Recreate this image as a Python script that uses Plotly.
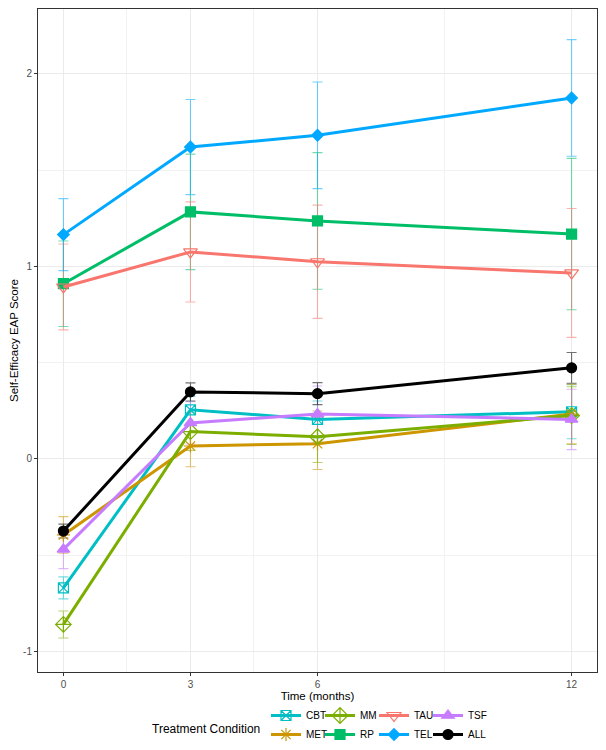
import plotly.graph_objects as go

months = [0, 3, 6, 12]
groups = ["CBT", "MET", "MM", "RP", "TAU", "TEL", "TSF", "ALL"]

cbt = [-0.67, 0.255, 0.205, 0.245]
cbt_err = [0.057, 0.07, 0.096, 0.14]
met = [-0.395, 0.067, 0.079, 0.233]
met_err = [0.095, 0.108, 0.134, 0.154]
mm = [-0.86, 0.142, 0.115, 0.225]
mm_err = [0.07, 0.098, 0.134, 0.15]
rp = [0.91, 1.283, 1.236, 1.168]
rp_err = [0.222, 0.30, 0.355, 0.393]
tau = [0.893, 1.075, 1.024, 0.966]
tau_err = [0.223, 0.26, 0.294, 0.335]
tel = [1.165, 1.62, 1.681, 1.875]
tel_err = [0.187, 0.247, 0.277, 0.303]
tsf = [-0.47, 0.187, 0.233, 0.205]
tsf_err = [0.10, 0.11, 0.146, 0.157]
all_ = [-0.375, 0.348, 0.339, 0.473]
all_err = [0.036, 0.047, 0.057, 0.08]

x_ticks = [0, 3, 6, 12]
x_ticktext = ["0", "3", "6", "12"]
y_ticks = [-1, 0, 1, 2]
y_ticktext = ["-1", "0", "1", "2"]

values = {"CBT": cbt, "MET": met, "MM": mm, "RP": rp, "TAU": tau,
          "TEL": tel, "TSF": tsf, "ALL": all_}
errors = {"CBT": cbt_err, "MET": met_err, "MM": mm_err, "RP": rp_err,
          "TAU": tau_err, "TEL": tel_err, "TSF": tsf_err, "ALL": all_err}

colors = {"CBT": "#00BFC4", "MET": "#CD9600", "MM": "#7CAE00", "RP": "#00BE67",
          "TAU": "#F8766D", "TEL": "#00A9FF", "TSF": "#C77CFF", "ALL": "#000000"}
symbols = {"CBT": "square-x-open", "MET": "asterisk-open", "MM": "diamond-cross-open",
           "RP": "square", "TAU": "triangle-down-open", "TEL": "diamond",
           "TSF": "triangle-up", "ALL": "circle"}
msize = {"CBT": 10, "MET": 11, "MM": 12, "RP": 10, "TAU": 12, "TEL": 9,
         "TSF": 11, "ALL": 10}
legend_of = {"CBT": "legend", "MET": "legend", "MM": "legend2", "RP": "legend2",
             "TAU": "legend3", "TEL": "legend3", "TSF": "legend4", "ALL": "legend4"}


def rgba(hexc, a):
    h = hexc.lstrip("#")
    r, g, b = int(h[0:2], 16), int(h[2:4], 16), int(h[4:6], 16)
    return f"rgba({r},{g},{b},{a})"


fig = go.Figure()

# error bars first (beneath lines)
for gname in groups:
    fig.add_trace(go.Scatter(
        x=months, y=values[gname], mode="markers",
        marker=dict(size=1, opacity=0, color=colors[gname]),
        error_y=dict(type="data", array=errors[gname], visible=True,
                     color=rgba(colors[gname], 0.55), thickness=1.1, width=5),
        showlegend=False, hoverinfo="skip"))

for gname in groups:
    fig.add_trace(go.Scatter(
        x=months, y=values[gname], mode="lines+markers", name=gname,
        line=dict(color=colors[gname], width=3),
        marker=dict(symbol=symbols[gname], size=msize[gname], color=colors[gname],
                    line=dict(color=colors[gname], width=1.2)),
        legend=legend_of[gname]))

font_fam = "Liberation Sans, Arial, sans-serif"
OFF = 8  # default page body margin
W, H = 606 - 2 * OFF, 750 - 2 * OFF
ml, mr, mt, mb = 30, 1, 1, 70
pw = W - ml - mr
ph = H - mt - mb


def px_x(p):
    return (p - OFF - ml) / pw


def px_y(p):
    return (H - mb - (p - OFF)) / ph


legend_common = dict(orientation="v", yanchor="top", xanchor="left",
                     font=dict(family=font_fam, size=10, color="#000000"),
                     bgcolor="rgba(0,0,0,0)", itemwidth=30, tracegroupgap=0)
leg_top = px_y(701)
leg_x0 = 266
leg_dx = 54

fig.update_layout(
    width=W, height=H,
    margin=dict(l=ml, r=mr, t=mt, b=mb, autoexpand=False),
    paper_bgcolor="white", plot_bgcolor="white",
    font=dict(family=font_fam, color="#000000"),
    legend=dict(x=px_x(leg_x0), y=leg_top, **legend_common),
    legend2=dict(x=px_x(leg_x0 + leg_dx), y=leg_top, **legend_common),
    legend3=dict(x=px_x(leg_x0 + 2 * leg_dx), y=leg_top, **legend_common),
    legend4=dict(x=px_x(leg_x0 + 3 * leg_dx), y=leg_top, **legend_common),
    xaxis=dict(range=[-0.6, 12.6], tickmode="array", tickvals=x_ticks,
               ticktext=x_ticktext, showgrid=True, gridcolor="#EBEBEB", gridwidth=1,
               zeroline=False, showline=True, mirror=True, linecolor="#333333",
               linewidth=1, ticks="outside", ticklen=3, tickcolor="#333333",
               tickfont=dict(size=10, color="#4D4D4D"), automargin=False,
               minor=dict(tickmode="array", tickvals=[1.5, 4.5, 9], showgrid=True,
                          gridcolor="#F2F2F2", gridwidth=0.6, ticks=""),
               title=dict(text="Time (months)", font=dict(size=11.5), standoff=0)),
    yaxis=dict(range=[-1.107, 2.337], tickmode="array", tickvals=y_ticks,
               ticktext=y_ticktext, showgrid=True, gridcolor="#EBEBEB", gridwidth=1,
               zeroline=False, showline=True, mirror=True, linecolor="#333333",
               linewidth=1, ticks="outside", ticklen=3, tickcolor="#333333",
               tickfont=dict(size=10, color="#4D4D4D"), automargin=False,
               minor=dict(tickmode="array", tickvals=[-0.5, 0.5, 1.5], showgrid=True,
                          gridcolor="#F2F2F2", gridwidth=0.6, ticks=""),
               title=dict(text="Self-Efficacy EAP Score", font=dict(size=11.5), standoff=8)),
    annotations=[dict(text="Treatment Condition", xref="paper", yref="paper",
                      x=px_x(leg_x0 - 4), y=px_y(729), xanchor="right", yanchor="middle",
                      showarrow=False, font=dict(family=font_fam, size=12, color="#000000"))],
)

fig.write_html("out.html")
